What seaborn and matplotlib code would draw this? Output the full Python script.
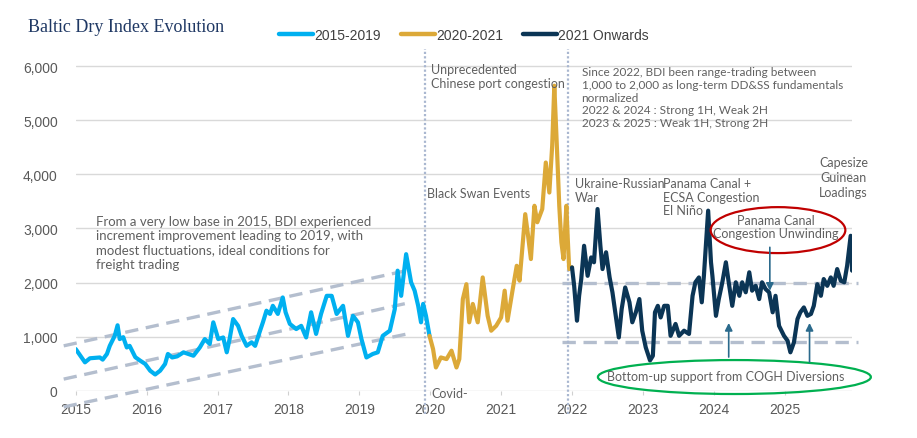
import pandas as pd
import matplotlib.pyplot as plt
import seaborn as sns
from matplotlib.patches import Ellipse

# Baltic Dry Index (decimal year, index level)
years_1519 = [2015.00, 2015.13, 2015.20, 2015.34, 2015.38, 2015.44, 2015.48, 2015.55, 2015.59, 2015.62,
              2015.67, 2015.72, 2015.76, 2015.84, 2015.91, 2015.98, 2016.05, 2016.12, 2016.19, 2016.26,
              2016.30, 2016.36, 2016.43, 2016.52, 2016.66, 2016.75, 2016.82, 2016.89, 2016.94, 2017.01,
              2017.08, 2017.13, 2017.17, 2017.22, 2017.29, 2017.34, 2017.41, 2017.48, 2017.53, 2017.60,
              2017.64, 2017.69, 2017.74, 2017.78, 2017.85, 2017.92, 2017.96, 2018.02, 2018.11, 2018.18,
              2018.25, 2018.32, 2018.39, 2018.46, 2018.54, 2018.61, 2018.68, 2018.77, 2018.84, 2018.91,
              2018.98, 2019.03, 2019.10, 2019.19, 2019.26, 2019.33, 2019.43, 2019.50, 2019.54, 2019.59,
              2019.66, 2019.73, 2019.78, 2019.83, 2019.87, 2019.90, 2019.94, 2019.99]
bdi_1519 = [770, 525, 600, 615, 575, 680, 830, 1015, 1210, 955,
            990, 800, 830, 620, 555, 495, 370, 300, 370, 495,
            680, 615, 635, 710, 647, 800, 955, 865, 1265, 955,
            985, 710, 955, 1325, 1200, 1015, 830, 895, 830, 1110,
            1265, 1480, 1420, 1570, 1420, 1725, 1450, 1235, 1140, 1200,
            985, 1450, 1050, 1420, 1755, 1755, 1420, 1570, 1015, 1385,
            1265, 955, 615, 680, 710, 1015, 1110, 1510, 2220, 1755,
            2525, 2005, 1850, 1570, 1265, 1605, 1385, 1015]

years_2021 = [2019.99, 2020.04, 2020.08, 2020.15, 2020.23, 2020.30, 2020.37, 2020.41, 2020.46, 2020.51,
              2020.55, 2020.60, 2020.67, 2020.74, 2020.81, 2020.86, 2020.93, 2021.00, 2021.05, 2021.09,
              2021.16, 2021.22, 2021.26, 2021.34, 2021.38, 2021.42, 2021.47, 2021.51, 2021.58, 2021.63,
              2021.68, 2021.72, 2021.75, 2021.78, 2021.82, 2021.85, 2021.88, 2021.92, 2021.94, 2021.96,
              2022.00]
bdi_2021 = [1015, 770, 430, 615, 585, 740, 430, 585, 1695, 1970,
            1265, 1605, 1265, 2095, 1385, 1110, 1200, 1355, 1850, 1295,
            1850, 2310, 2035, 3265, 2865, 2435, 3420, 3115, 3360, 4220,
            3665, 4530, 5640, 4715, 3420, 2745, 2435, 3420, 2805, 2250,
            2280]

years_22on = [2022.00, 2022.03, 2022.07, 2022.10, 2022.13, 2022.17, 2022.22, 2022.27, 2022.31, 2022.36,
              2022.40, 2022.43, 2022.48, 2022.53, 2022.57, 2022.62, 2022.66, 2022.70, 2022.75, 2022.81,
              2022.85, 2022.90, 2022.95, 2022.99, 2023.04, 2023.10, 2023.14, 2023.17, 2023.21, 2023.25,
              2023.30, 2023.35, 2023.39, 2023.46, 2023.51, 2023.58, 2023.65, 2023.70, 2023.74, 2023.79,
              2023.83, 2023.86, 2023.92, 2023.96, 2023.98, 2024.03, 2024.07, 2024.12, 2024.17, 2024.21,
              2024.26, 2024.31, 2024.36, 2024.40, 2024.45, 2024.50, 2024.54, 2024.59, 2024.64, 2024.68,
              2024.73, 2024.78, 2024.83, 2024.87, 2024.92, 2024.99, 2025.04, 2025.08, 2025.13, 2025.18,
              2025.22, 2025.27, 2025.32, 2025.37, 2025.41, 2025.46, 2025.51, 2025.55, 2025.60, 2025.65,
              2025.69, 2025.74, 2025.79, 2025.84, 2025.88, 2025.93, 2025.95]
bdi_22on = [2280, 1940, 1295, 1755, 2065, 2680, 2125, 2465, 2375, 3360,
            2680, 2250, 2560, 2095, 1820, 1355, 985, 1510, 1910, 1635,
            1265, 1450, 1695, 1110, 800, 560, 645, 1450, 1570, 1355,
            1570, 1570, 1015, 1235, 1015, 1110, 1050, 1755, 2005, 2095,
            1635, 2125, 3330, 2375, 2125, 1385, 1695, 2005, 2375, 2005,
            1570, 2005, 1755, 2005, 1820, 2190, 1850, 1940, 1695, 2005,
            1880, 1820, 1450, 1755, 1200, 1015, 925, 710, 895, 1325,
            1450, 1540, 1385, 1420, 1570, 1970, 1755, 2065, 1940, 2095,
            1940, 2250, 2035, 2005, 2310, 2865, 2220]

periods = ['2015-2019', '2020-2021', '2021 Onwards']
colors = ['#00B0F0', '#DCA938', '#0B3555']
year_ticks = list(range(2015, 2026))

# 2015-2019 trading channel (start / end points)
channel_x = [2014.83, 2019.73]
channel_upper = [830, 2240]
channel_mid = [215, 1635]
channel_low = [-300, 1065]
range_levels = [2000, 900]  # 2022+ trading range

df = pd.concat([
    pd.DataFrame({'year': years_1519, 'bdi': bdi_1519, 'period': periods[0]}),
    pd.DataFrame({'year': years_2021, 'bdi': bdi_2021, 'period': periods[1]}),
    pd.DataFrame({'year': years_22on, 'bdi': bdi_22on, 'period': periods[2]}),
])

sns.set_style('white')
plt.rcParams['font.family'] = ['Liberation Sans', 'DejaVu Sans']

fig = plt.figure(figsize=(9.17, 4.39), dpi=100)
ax = fig.add_axes([0.0826, 0.1077, 0.8466, 0.778])

dash_kw = dict(color='#B4BECE', lw=2.4, dashes=(4, 2.3), clip_on=False, zorder=1)
for ys in (channel_upper, channel_mid, channel_low):
    ax.plot(channel_x, ys, **dash_kw)
for lvl in range_levels:
    ax.plot([2021.86, 2026.03], [lvl, lvl], **dash_kw)

for xv in (2019.92, 2021.95):
    ax.plot([xv, xv], [-430, 6316], color='#A9B7D0', lw=1.6, ls=(0, (1, 1)), clip_on=False, zorder=1)

sns.lineplot(data=df, x='year', y='bdi', hue='period', palette=colors, hue_order=periods,
             sort=False, estimator=None, lw=3, ax=ax, zorder=3)

ax.set_xlim(2015, 2025.95)
ax.set_ylim(0, 6316)
ax.set_yticks(range(0, 7000, 1000))
ax.set_yticklabels([f'{v:,}' for v in range(0, 7000, 1000)])
ax.set_xticks(year_ticks)
ax.set_xticklabels([str(y) for y in year_ticks])
ax.yaxis.grid(True, color='#D9D9D9', lw=1)
ax.set_axisbelow(True)
for s in ax.spines.values():
    s.set_visible(False)
ax.tick_params(axis='y', length=0, pad=13, labelsize=10, labelcolor='#595959')
ax.tick_params(axis='x', length=3, width=0.8, color='#D0D0D0', pad=5, labelsize=10, labelcolor='#595959',
               bottom=True)
ax.set_xlabel('')
ax.set_ylabel('')

leg = ax.legend(loc='center', bbox_to_anchor=(0.5, 1.0415), ncol=3, frameon=False, fontsize=10,
                handlelength=2.45, handletextpad=0.1, columnspacing=1.4, labelcolor='#404040')
for h in leg.get_lines():
    h.set_linewidth(3.2)

fig.text(0.0305, 0.938, 'Baltic Dry Index Evolution', family='Liberation Serif', fontsize=13,
         color='#1F3864', va='center')

note = dict(family=['Lato', 'DejaVu Sans'], color='#606060', va='top')
ax.text(2015.28, 3248, 'From a very low base in 2015, BDI experienced\nincrement improvement leading to 2019, with\n'
        'modest fluctuations, ideal conditions for\nfreight trading', fontsize=9.5, linespacing=1.22, **note)
ax.text(2020.01, 6055, 'Unprecedented\nChinese port congestion', fontsize=9, linespacing=1.2, **note)
ax.text(2019.96, 3761, 'Black Swan Events', fontsize=9, **note)
ax.text(2020.01, 78, 'Covid-', fontsize=9, clip_on=False, **note)
ax.text(2022.135, 6000, 'Since 2022, BDI been range-trading between\n1,000 to 2,000 as long-term DD&SS fundamentals\n'
        'normalized\n2022 & 2024 : Strong 1H, Weak 2H\n2023 & 2025 : Weak 1H, Strong 2H',
        fontsize=8.5, linespacing=1.19, **note)
ax.text(2022.04, 3950, 'Ukraine-Russian\nWar', fontsize=9, linespacing=1.2, **note)
ax.text(2023.29, 3950, 'Panama Canal +\nECSA Congestion\nEl Niño', fontsize=9, linespacing=1.15, **note)
ax.text(2025.83, 4347, 'Capesize\nGuinean\nLoadings', fontsize=9, linespacing=1.3, ha='center', **note)
ax.text(2024.87, 3266, 'Panama Canal\nCongestion Unwinding', fontsize=9, linespacing=1.08, ha='center', **note)
ax.text(2024.17, 266, 'Bottom-up support from COGH Diversions', fontsize=9, ha='center',
        family=['Lato', 'DejaVu Sans'], color='#606060', va='center', zorder=5)

ax.add_patch(Ellipse((2024.905, 2970), 1.90, 850, fill=False, ec='#C00000', lw=1.6, zorder=4))
ax.add_patch(Ellipse((2024.29, 253), 3.85, 628, fill=False, ec='#00B050', lw=1.6, clip_on=False, zorder=4))

arrow = dict(arrowstyle='-|>', color='#2B6A8C', lw=1.2, mutation_scale=11, shrinkA=0, shrinkB=0)
ax.annotate('', xy=(2024.79, 1848), xytext=(2024.79, 2652), arrowprops=arrow, zorder=5)
ax.annotate('', xy=(2024.21, 1253), xytext=(2024.21, 623), arrowprops=arrow, zorder=5)
ax.annotate('', xy=(2025.35, 1253), xytext=(2025.35, 531), arrowprops=arrow, zorder=5)

fig.savefig('out.png', dpi=100)
